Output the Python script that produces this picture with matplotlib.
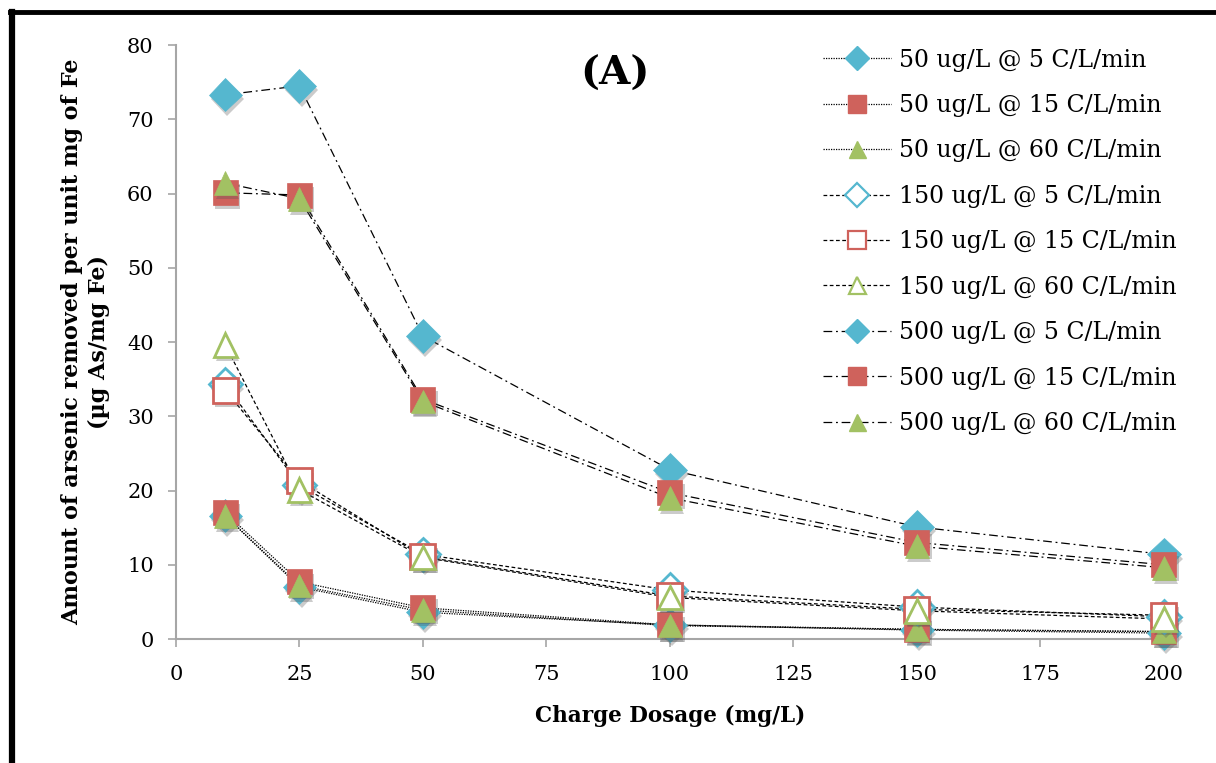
import matplotlib
matplotlib.use("Agg")
import matplotlib.pyplot as plt
from matplotlib.lines import Line2D
import matplotlib.patheffects as pe

plt.rcParams['font.family'] = ['DejaVu Serif']

dosage = [10, 25, 50, 100, 150, 200]

labels = [
    "50 ug/L @ 5 C/L/min", "50 ug/L @ 15 C/L/min", "50 ug/L @ 60 C/L/min",
    "150 ug/L @ 5 C/L/min", "150 ug/L @ 15 C/L/min", "150 ug/L @ 60 C/L/min",
    "500 ug/L @ 5 C/L/min", "500 ug/L @ 15 C/L/min", "500 ug/L @ 60 C/L/min",
]

as50_c5 = [16.6, 7.0, 3.6, 1.9, 1.2, 0.8]
as50_c15 = [17.0, 7.7, 4.2, 1.9, 1.3, 1.0]
as50_c60 = [16.6, 7.2, 3.9, 1.8, 1.3, 1.0]
as150_c5 = [34.3, 20.7, 11.4, 6.6, 4.3, 3.0]
as150_c15 = [33.5, 21.3, 11.1, 5.8, 4.0, 3.2]
as150_c60 = [39.6, 20.1, 11.0, 5.6, 3.8, 2.7]
as500_c5 = [73.3, 74.5, 40.8, 22.8, 15.1, 11.4]
as500_c15 = [60.1, 59.8, 32.3, 19.7, 13.0, 10.0]
as500_c60 = [61.4, 59.3, 32.0, 19.0, 12.5, 9.6]

series = [as50_c5, as50_c15, as50_c60, as150_c5, as150_c15, as150_c60,
          as500_c5, as500_c15, as500_c60]

blue = '#55B7CF'
red = '#CF625C'
green = '#A2C163'
colors = [blue, red, green] * 3
markers = ['D', 's', '^'] * 3
msizes = [17, 18, 17] * 3
styles = [(0, (1, 1))] * 3 + [(0, (3, 2))] * 3 + [(0, (7, 3, 1.5, 3))] * 3
filled = [True] * 3 + [False] * 3 + [True] * 3

fig = plt.figure(figsize=(12.16, 7.63), dpi=100)
ax = fig.add_axes([0.1447, 0.1625, 0.8125, 0.7785])

shadow = [pe.SimplePatchShadow(offset=(1.5, -3), shadow_rgbFace='#555555', alpha=0.3), pe.Normal()]

handles = []
for vals, c, m, ms, ls, f, lab in zip(series, colors, markers, msizes, styles, filled, labels):
    ax.plot(dosage, vals, color='black', lw=0.9, ls=ls, zorder=2)
    if f:
        ax.plot(dosage, vals, ls='none', marker=m, ms=ms, mfc=c, mec=c, mew=0.5,
                zorder=3, path_effects=shadow, clip_on=False)
        h = Line2D([], [], color='black', lw=0.9, ls=ls, marker=m, ms=ms * 0.72,
                   mfc=c, mec=c)
    else:
        ax.plot(dosage, vals, ls='none', marker=m, ms=ms, mfc='white', mec=c, mew=2,
                zorder=3, path_effects=shadow, clip_on=False)
        h = Line2D([], [], color='black', lw=0.9, ls=ls, marker=m, ms=ms * 0.72,
                   mfc='white', mec=c, mew=1.6)
    handles.append(h)

ax.set_xlim(0, 200)
ax.set_ylim(0, 80)
ax.set_xticks([0, 25, 50, 75, 100, 125, 150, 175, 200])
ax.set_yticks([0, 10, 20, 30, 40, 50, 60, 70, 80])
for s in ['top', 'right']:
    ax.spines[s].set_visible(False)
for s in ['left', 'bottom']:
    ax.spines[s].set_color('#A6A6A6')
    ax.spines[s].set_linewidth(1.5)
ax.tick_params(axis='both', direction='out', length=6, width=1.2, color='#A6A6A6',
               labelsize=15)
ax.tick_params(axis='x', pad=13)
ax.tick_params(axis='y', pad=10)
ax.patch.set_alpha(0)

ax.set_xlabel("Charge Dosage (mg/L)", fontsize=15.5, fontweight='bold', labelpad=15)
ax.set_ylabel("Amount of arsenic removed per unit mg of Fe\n(µg As/mg Fe)",
              fontsize=16, fontweight='bold', labelpad=12, linespacing=1.3)

ax.text(0.444, 0.952, "(A)", transform=ax.transAxes, fontsize=29, fontweight='bold',
        ha='center', va='center')

leg = ax.legend(handles, labels, loc='upper left', bbox_to_anchor=(0.645, 1.01),
                frameon=False, fontsize=17, handlelength=2.9, handletextpad=0.35,
                labelspacing=0.95, borderaxespad=0)

fig.add_artist(Line2D([10 / 1216, 1.0], [1 - 12 / 763, 1 - 12 / 763], color='black',
                      lw=3.5, transform=fig.transFigure))
fig.add_artist(Line2D([12 / 1216, 12 / 1216], [0, 1 - 12 / 763], color='black',
                      lw=4.5, transform=fig.transFigure))

fig.savefig("out.png", dpi=100)
